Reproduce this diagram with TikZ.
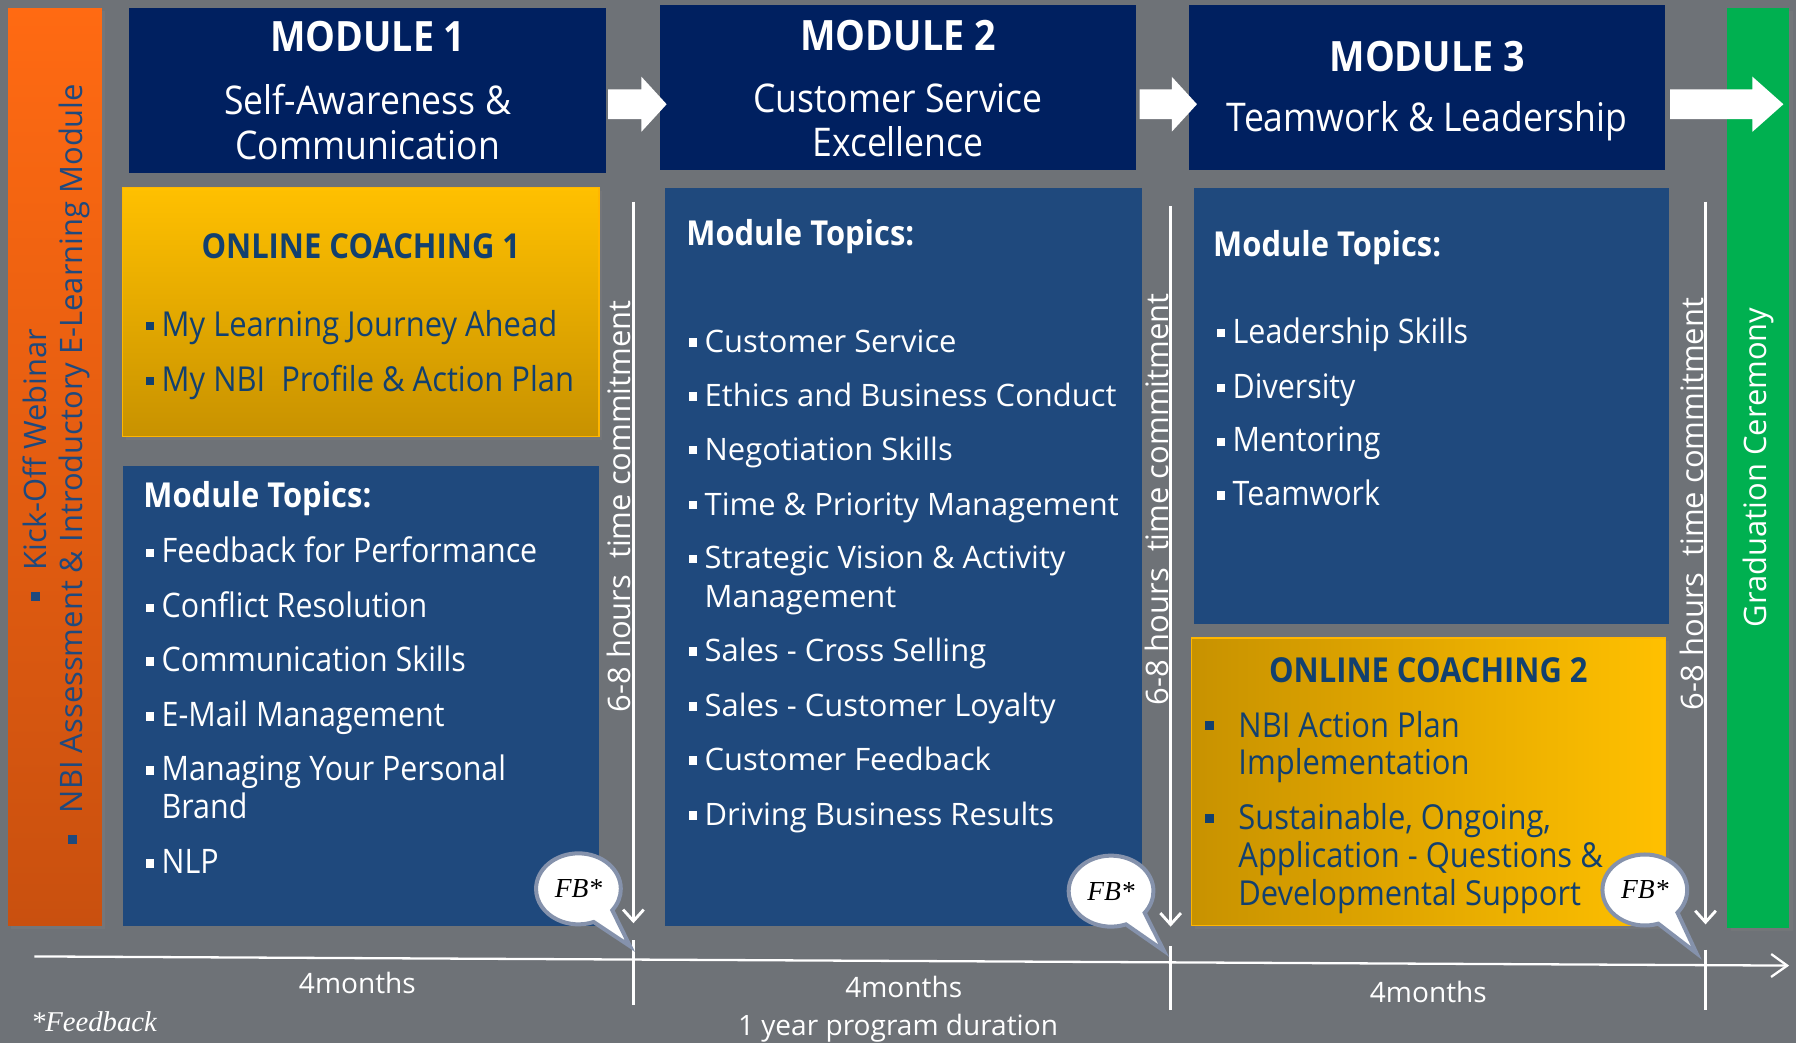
\documentclass[tikz,border=0pt]{standalone}
\usepackage{fontspec}
\setmainfont{Open Sans}
\newfontfamily\narrowfont[FakeStretch=0.9]{Open Sans}
\newfontfamily\fbfont{Liberation Serif}
\usetikzlibrary{arrows.meta,shapes.callouts,shadows}

\definecolor{bggray}{HTML}{6E7277}
\definecolor{navy}{HTML}{002060}
\definecolor{topicblue}{HTML}{1F497D}
\definecolor{coachtext}{HTML}{12406F}
\definecolor{gold}{HTML}{FFC000}
\definecolor{golddark}{HTML}{C89200}
\definecolor{kickorange}{HTML}{FF6A12}
\definecolor{kickdark}{HTML}{C9500F}
\definecolor{gradgreen}{HTML}{00B050}
\definecolor{fbborder}{HTML}{8592AC}

\newcommand{\blt}{\makebox[14pt][l]{\rule[5pt]{7.5pt}{7.5pt}}}
\newcommand{\bigblt}{\makebox[29pt][l]{\rule[6pt]{8pt}{8pt}}}

\tikzset{
  modbox/.style={fill=navy, inner sep=0, minimum width=416, minimum height=144},
  modtitle/.style={anchor=base, text=white, inner sep=0, font=\narrowfont\bfseries\fontsize{36.5}{40}\selectfont},
  modsub/.style={anchor=base, text=white, inner sep=0, font=\narrowfont\fontsize{34.5}{39}\selectfont},
  topicbox/.style={fill=topicblue, inner sep=0},
  coachbox/.style={inner sep=0, draw=gold!85!orange, line width=1, drop shadow={opacity=0.35, shadow xshift=3pt, shadow yshift=-3pt}},
  tophead/.style={anchor=base west, text=white, inner sep=0, font=\narrowfont\bfseries\fontsize{30}{33}\selectfont},
  coachhead/.style={anchor=base, text=coachtext, inner sep=0, font=\narrowfont\bfseries\fontsize{30}{33}\selectfont},
  topic/.style={anchor=base west, text=white, inner sep=0, font=\narrowfont\fontsize{29.5}{33}\selectfont},
  widetopic/.style={anchor=base west, text=white, inner sep=0, font=\fontsize{27}{34}\selectfont},
  coachitem/.style={anchor=base west, text=coachtext, inner sep=0, font=\narrowfont\fontsize{30}{33}\selectfont},
  sidetext/.style={rotate=90, inner sep=0, font=\fontsize{27}{30}\selectfont},
  commit/.style={sidetext, text=white},
  months/.style={text=white, inner sep=0, font=\fontsize{24.5}{28}\selectfont},
  fb/.style={ellipse callout, fill=white, draw=fbborder, line width=3.5, inner sep=0,
    minimum width=74, minimum height=62, callout pointer arc=32,
    font=\fbfont\itshape\fontsize{24}{26}\selectfont},
  weekarrow/.style={draw=white, line width=2.5, -{Straight Barb[length=10pt, width=18pt]}},
  tick/.style={draw=white, line width=2}
}

\begin{document}
\begin{tikzpicture}[x=1pt, y=-1pt]
      \useasboundingbox (0,0) rectangle (1568,911);
      \fill[bggray] (0,0) rectangle (1568,911);

      % Barre laterali
      \node[inner sep=0, top color=kickorange, bottom color=kickdark, minimum width=82, minimum height=801,
        drop shadow={opacity=0.35, shadow xshift=3pt, shadow yshift=-3pt}] (kick) at (48,407.5) {};
      \node[inner sep=0, fill=gradgreen, minimum width=54, minimum height=803,
        drop shadow={opacity=0.3, shadow xshift=3pt, shadow yshift=-3pt}] (grad) at (1535,408.5) {};
      \node[sidetext, text=topicblue] (kick1) at (30,406) {\rule[5pt]{8pt}{8pt}\hspace{19pt}Kick-Off Webinar};
      \node[sidetext, text=topicblue] (kick2) at (65,405) {\rule[5pt]{8pt}{8pt}\hspace{19pt}NBI Assessment \& Introductory E-Learning Module};
      \node[sidetext, text=white] (gradtxt) at (1535,408) {Graduation Ceremony};

      % Moduli
      \node[modbox] (m1) at (321,79) {};
      \node[modbox] (m2) at (784,76.5) {};
      \node[modbox] (m3) at (1246,76.5) {};
      \node[modtitle] (m1t) at (321,45) {MODULE 1};
      \node[modsub] (m1a) at (321,100) {Self-Awareness \&};
      \node[modsub] (m1b) at (321,139) {Communication};
      \node[modtitle] (m2t) at (784,44) {MODULE 2};
      \node[modsub] (m2a) at (784,98) {Customer Service};
      \node[modsub] (m2b) at (784,137) {Excellence};
      \node[modtitle] (m3t) at (1246,62) {MODULE 3};
      \node[modsub] (m3a) at (1246,115) {Teamwork \& Leadership};

      % Frecce tra i moduli
      \fill[white] (531,78) -- (560,78) -- (560,67) -- (582,91) -- (560,115) -- (560,104) -- (531,104) -- cycle;
      \fill[white] (995,78) -- (1023,78) -- (1023,67) -- (1045,91) -- (1023,115) -- (1023,104) -- (995,104) -- cycle;
      \fill[white] (1458,78) -- (1530,78) -- (1530,67) -- (1557,91) -- (1530,115) -- (1530,104) -- (1458,104) -- cycle;

      % Coaching 1
      \node[coachbox, top color=gold, bottom color=golddark, minimum width=416, minimum height=217] (c1) at (315,272.5) {};
      \node[coachhead] (c1t) at (315,226) {ONLINE COACHING 1};
      \node[coachitem] (c1a) at (127,293.5) {\blt My Learning Journey Ahead};
      \node[coachitem] (c1b) at (127,341.5) {\blt My NBI\ \ Profile \& Action Plan};

      % Argomenti modulo 1
      \node[topicbox, minimum width=416, minimum height=401] (b1) at (315,607.5) {};
      \node[tophead] (b1t) at (125,443.5) {Module Topics:};
      \node[topic] (b1a) at (127,491.5) {\blt Feedback for Performance};
      \node[topic] (b1b) at (127,539.5) {\blt Conflict Resolution};
      \node[topic] (b1c) at (127,586.5) {\blt Communication Skills};
      \node[topic] (b1d) at (127,634.5) {\blt E-Mail Management};
      \node[topic] (b1e) at (127,681.5) {\blt Managing Your Personal};
      \node[topic] (b1e2) at (141,714.5) {Brand};
      \node[topic] (b1f) at (127,762.5) {\blt NLP};

      % Argomenti modulo 2
      \node[topicbox, minimum width=416, minimum height=644] (b2) at (789,486) {};
      \node[tophead] (b2t) at (599,214) {Module Topics:};
      \node[widetopic] (b2a) at (601,307.7) {\blt Customer Service};
      \node[widetopic] (b2b) at (601,354.7) {\blt Ethics and Business Conduct};
      \node[widetopic] (b2c) at (601,401.7) {\blt Negotiation Skills};
      \node[widetopic] (b2d) at (601,449.7) {\blt Time \& Priority Management};
      \node[widetopic] (b2e) at (601,496.7) {\blt Strategic Vision \& Activity};
      \node[widetopic] (b2e2) at (615,530.7) {Management};
      \node[widetopic] (b2f) at (601,577.7) {\blt Sales - Cross Selling};
      \node[widetopic] (b2g) at (601,625.7) {\blt Sales - Customer Loyalty};
      \node[widetopic] (b2h) at (601,672.7) {\blt Customer Feedback};
      \node[widetopic] (b2i) at (601,720.7) {\blt Driving Business Results};

      % Argomenti modulo 3
      \node[topicbox, minimum width=415, minimum height=381] (b3) at (1249.5,354.5) {};
      \node[tophead] (b3t) at (1059,224) {Module Topics:};
      \node[topic] (b3a) at (1062,299.5) {\blt Leadership Skills};
      \node[topic] (b3b) at (1062,347.5) {\blt Diversity};
      \node[topic] (b3c) at (1062,394.5) {\blt Mentoring};
      \node[topic] (b3d) at (1062,441.5) {\blt Teamwork};

      % Coaching 2
      \node[coachbox, left color=golddark, right color=gold, minimum width=414, minimum height=251] (c2) at (1247,682.5) {};
      \node[coachhead] (c2t) at (1247,596) {ONLINE COACHING 2};
      \node[coachitem] (c2a) at (1052,643.5) {\bigblt NBI Action Plan};
      \node[coachitem] (c2a2) at (1081,676.5) {Implementation};
      \node[coachitem] (c2b) at (1052,724.5) {\bigblt Sustainable, Ongoing,};
      \node[coachitem] (c2b2) at (1081,757.5) {Application - Questions \&};
      \node[coachitem] (c2b3) at (1081,790.5) {Developmental Support};

      % Impegno orario
      \coordinate (w1a) at (553,176);  \coordinate (w1b) at (553,806);
      \coordinate (w2a) at (1022,180); \coordinate (w2b) at (1022,809);
      \coordinate (w3a) at (1489,176); \coordinate (w3b) at (1489,807);
      \draw[weekarrow] (w1a) -- (w1b);
      \draw[weekarrow] (w2a) -- (w2b);
      \draw[weekarrow] (w3a) -- (w3b);
      \node[commit] (h1) at (540,442) {6-8 hours\ \ time commitment};
      \node[commit] (h2) at (1010,436) {6-8 hours\ \ time commitment};
      \node[commit] (h3) at (1477,440) {6-8 hours\ \ time commitment};

      % Linea del tempo
      \coordinate (t0) at (30,835);
      \coordinate (tend) at (1562,843);
      \draw[tick, -{Straight Barb[length=14pt, width=20pt]}] (t0) -- (tend);
      \coordinate (k1a) at (553,821);  \coordinate (k1b) at (553,877);
      \coordinate (k2a) at (1022,826); \coordinate (k2b) at (1022,882);
      \coordinate (k3a) at (1489,829); \coordinate (k3b) at (1489,882);
      \draw[tick] (k1a) -- (k1b);
      \draw[tick] (k2a) -- (k2b);
      \draw[tick] (k3a) -- (k3b);
      \node[months] (mo1) at (312,858) {4months};
      \node[months] (mo2) at (789,862) {4months};
      \node[months] (mo3) at (1247,866) {4months};
      \node[months] (year) at (784,898) {1 year program duration};
      \node[text=white, inner sep=0, font=\fbfont\itshape\fontsize{25}{28}\selectfont] (note) at (82,892) {*Feedback};

      % Fumetti FB
      \coordinate (fbtip1) at (550,826);
      \coordinate (fbtip2) at (1016,830);
      \coordinate (fbtip3) at (1481,832);
      \node[fb, callout absolute pointer={(fbtip1)}] (fb1) at (505,776) {FB*};
      \node[fb, callout absolute pointer={(fbtip2)}] (fb2) at (970,778) {FB*};
      \node[fb, callout absolute pointer={(fbtip3)}] (fb3) at (1436,777) {FB*};
\end{tikzpicture}
\end{document}
